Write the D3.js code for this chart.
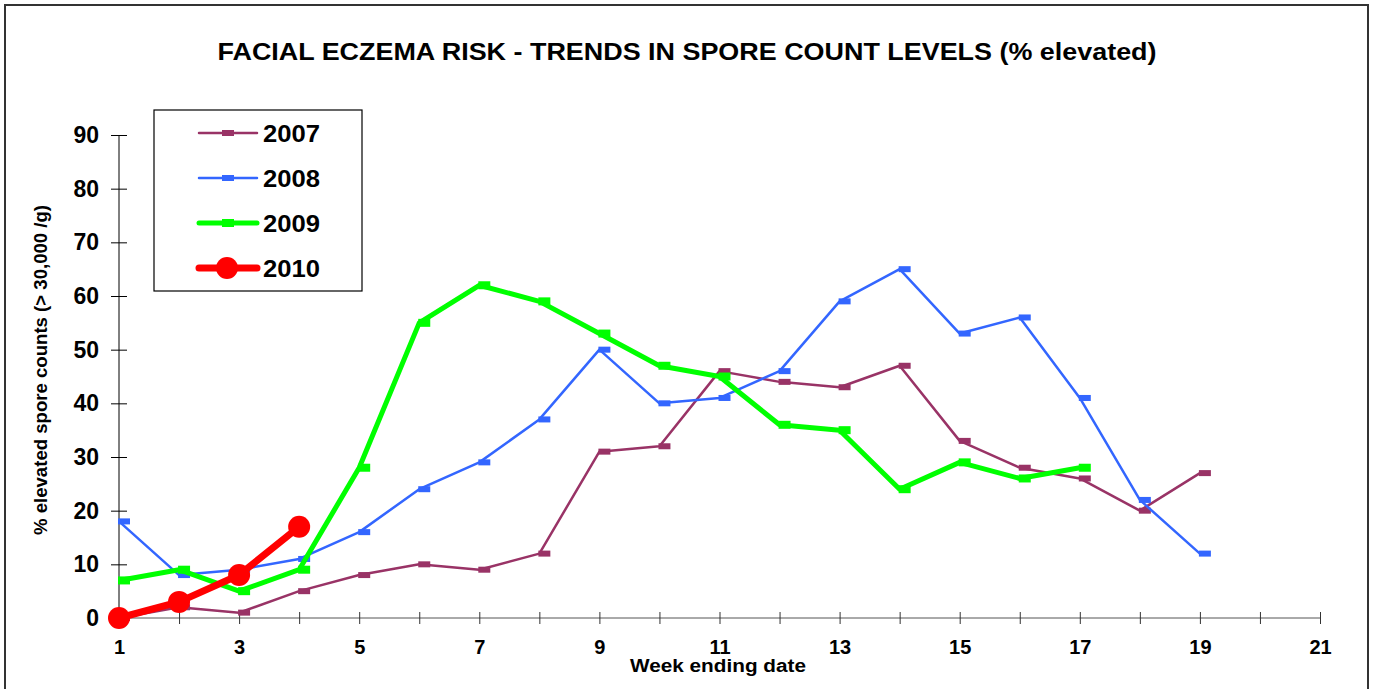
<!DOCTYPE html>
<html>
<head>
<meta charset="utf-8">
<script src="https://cdn.jsdelivr.net/npm/d3@7"></script>
<style>
  body { margin: 0; background: #fff; }
  svg { display: block; font-family: "Liberation Sans", Arial, sans-serif; }
</style>
</head>
<body>
<svg id="chart"></svg>
<script>
const yTicks = [0, 10, 20, 30, 40, 50, 60, 70, 80, 90];
const xTicks = d3.range(1, 22);

const s2007 = [0, 2, 1, 5, 8, 10, 9, 12, 31, 32, 46, 44, 43, 47, 33, 28, 26, 20, 27];
const s2008 = [18, 8, 9, 11, 16, 24, 29, 37, 50, 40, 41, 46, 59, 65, 53, 56, 41, 22, 12];
const s2009 = [7, 9, 5, 9, 28, 55, 62, 59, 53, 47, 45, 36, 35, 24, 29, 26, 28];
const s2010 = [0, 3, 8, 17];

const seriesNames = ["2007", "2008", "2009", "2010"];

const width = 1375;
const height = 689;

const series = [
  { name: "2007", values: s2007, color: "#993366", lw: 2.5, marker: "rect", mw: 12, mh: 6 },
  { name: "2008", values: s2008, color: "#3366FF", lw: 2.5, marker: "rect", mw: 12, mh: 6 },
  { name: "2009", values: s2009, color: "#00FF00", lw: 5, marker: "rect", mw: 12, mh: 8 },
  { name: "2010", values: s2010, color: "#FF0000", lw: 7, marker: "circle", r: 11 },
];

const svg = d3.select("#chart").attr("width", width).attr("height", height);

// outer frame
svg.append("rect")
  .attr("x", 5).attr("y", 5).attr("width", 1363).attr("height", 700)
  .attr("fill", "#fff").attr("stroke", "#333").attr("stroke-width", 2);

const x = d3.scaleLinear().domain([1, 21]).range([119, 1320]);
const y = d3.scaleLinear().domain([0, 90]).range([618, 135]);

// title
svg.append("text")
  .attr("x", 687).attr("y", 60)
  .attr("text-anchor", "middle")
  .attr("font-weight", "bold").attr("font-size", 23)
  .attr("textLength", 939).attr("lengthAdjust", "spacingAndGlyphs")
  .text("FACIAL ECZEMA RISK - TRENDS IN SPORE COUNT LEVELS (% elevated)");

// y axis
const yAxis = svg.append("g")
  .attr("transform", "translate(119,0)")
  .call(d3.axisLeft(y).tickValues(yTicks).tickSize(8).tickPadding(12));
yAxis.select(".domain").attr("stroke", "#000").attr("d", `M0,${y(90)}V${y(0)}`);
yAxis.selectAll(".tick line").attr("x1", -8).attr("x2", 8).attr("stroke", "#000");
yAxis.selectAll(".tick text")
  .attr("font-size", 23).attr("font-weight", "bold").attr("fill", "#000")
  .attr("font-family", "Liberation Sans, Arial, sans-serif");

// x axis
const xAxis = svg.append("g")
  .attr("transform", `translate(0,${y(0)})`)
  .call(d3.axisBottom(x).tickValues(xTicks).tickSize(6).tickPadding(16)
    .tickFormat(d => d % 2 === 1 ? d : ""));
xAxis.select(".domain").attr("stroke", "#555").attr("d", `M${x(1)},0H${x(21)}`);
xAxis.selectAll(".tick line").attr("y1", -6).attr("y2", 6).attr("stroke", "#333");
xAxis.selectAll(".tick text")
  .attr("font-size", 20).attr("font-weight", "bold").attr("fill", "#000")
  .attr("font-family", "Liberation Sans, Arial, sans-serif");

// axis titles
svg.append("text")
  .attr("x", 718).attr("y", 672)
  .attr("text-anchor", "middle")
  .attr("font-weight", "bold").attr("font-size", 18)
  .attr("textLength", 176).attr("lengthAdjust", "spacingAndGlyphs")
  .text("Week ending date");

svg.append("text")
  .attr("transform", "translate(47,370) rotate(-90)")
  .attr("text-anchor", "middle")
  .attr("font-weight", "bold").attr("font-size", 18)
  .attr("textLength", 330).attr("lengthAdjust", "spacingAndGlyphs")
  .text("% elevated spore counts (> 30,000 /g)");

// lines
const line = d3.line().x((d, i) => x(i + 1)).y(d => y(d));

series.forEach(s => {
  const g = svg.append("g");
  g.append("path")
    .datum(s.values)
    .attr("fill", "none")
    .attr("stroke", s.color)
    .attr("stroke-width", s.lw)
    .attr("stroke-linejoin", "round")
    .attr("d", line);
  if (s.marker === "rect") {
    g.selectAll("rect").data(s.values).join("rect")
      .attr("x", (d, i) => x(i + 1) - 1)
      .attr("y", d => y(d) - s.mh / 2)
      .attr("width", s.mw).attr("height", s.mh)
      .attr("fill", s.color);
  } else {
    g.selectAll("circle").data(s.values).join("circle")
      .attr("cx", (d, i) => x(i + 1))
      .attr("cy", d => y(d))
      .attr("r", s.r)
      .attr("fill", s.color);
  }
});

// legend
const legend = svg.append("g");
legend.append("rect")
  .attr("x", 154).attr("y", 110).attr("width", 208).attr("height", 181)
  .attr("fill", "#fff").attr("stroke", "#000").attr("stroke-width", 1.2);

const ly = d3.scalePoint().domain(seriesNames).range([133, 268]);

series.forEach(s => {
  const cy = ly(s.name);
  legend.append("line")
    .attr("x1", 199).attr("x2", 257).attr("y1", cy).attr("y2", cy)
    .attr("stroke", s.color).attr("stroke-width", s.lw).attr("stroke-linecap", "round");
  if (s.marker === "rect") {
    legend.append("rect")
      .attr("x", 222).attr("y", cy - s.mh / 2).attr("width", s.mw).attr("height", s.mh)
      .attr("fill", s.color);
  } else {
    legend.append("circle").attr("cx", 227).attr("cy", cy).attr("r", s.r).attr("fill", s.color);
  }
  legend.append("text")
    .attr("x", 263).attr("y", cy + 9)
    .attr("font-weight", "bold").attr("font-size", 24)
    .attr("textLength", 57).attr("lengthAdjust", "spacingAndGlyphs")
    .text(s.name);
});
</script>
</body>
</html>
